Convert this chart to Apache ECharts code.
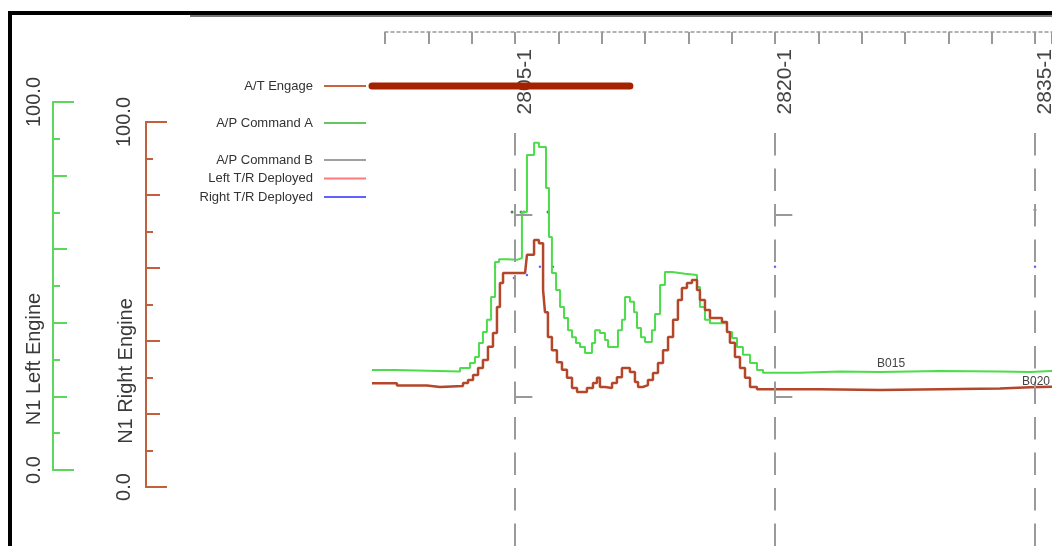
<!DOCTYPE html>
<html><head><meta charset="utf-8">
<script src="https://cdn.jsdelivr.net/npm/echarts@6/dist/echarts.min.js"></script>
<style>html,body{margin:0;padding:0;background:#fff}#c{width:1052px;height:546px}</style>
</head><body><div id="c"></div>
<script>
// ---- data ----
const leftTimes = [2796.75, 2798.08, 2801.83, 2802.40, 2802.69, 2802.92, 2803.15, 2803.38, 2803.62, 2803.85, 2804.08, 2804.54, 2805.12, 2805.40, 2805.69, 2806.10, 2806.38, 2806.79, 2806.96, 2807.13, 2807.37, 2807.60, 2807.83, 2808.06, 2808.29, 2808.52, 2808.75, 2809.04, 2809.44, 2809.62, 2809.90, 2810.19, 2810.37, 2810.94, 2811.17, 2811.35, 2811.63, 2811.87, 2812.04, 2812.27, 2812.50, 2812.90, 2813.08, 2813.37, 2813.65, 2814.06, 2814.81, 2815.50, 2815.67, 2815.96, 2816.25, 2817.23, 2817.52, 2817.81, 2818.15, 2818.56, 2818.96, 2819.31, 2821.44, 2823.75, 2826.06, 2829.52, 2832.98, 2834.71, 2836];
const n1Left = [27.2, 26.8, 27.7, 29.1, 30.7, 34.5, 37.5, 40.8, 47.0, 56.5, 57.3, 57.1, 57.6, 70.1, 85.6, 88.9, 87.8, 76.6, 63.3, 53.5, 48.9, 44.3, 41.3, 38.0, 36.1, 34.5, 33.4, 31.8, 34.5, 38.0, 37.2, 35.3, 33.4, 38.0, 40.8, 47.0, 45.7, 42.9, 38.6, 36.1, 34.8, 38.0, 42.4, 50.3, 53.8, 53.3, 53.0, 49.7, 44.3, 40.8, 39.9, 37.5, 35.9, 33.4, 31.3, 29.1, 27.2, 26.4, 26.8, 26.6, 26.9, 26.8, 26.6, 26.9, 26.9];
const rightTimes = [2796.75, 2798.19, 2799.92, 2800.67, 2802.00, 2802.29, 2802.58, 2802.87, 2803.15, 2803.44, 2803.73, 2803.96, 2804.13, 2804.31, 2805.58, 2805.69, 2806.10, 2806.38, 2806.62, 2806.73, 2806.90, 2807.13, 2807.42, 2807.71, 2808.00, 2808.29, 2808.58, 2809.15, 2809.50, 2809.73, 2809.90, 2810.19, 2810.60, 2810.88, 2811.17, 2811.63, 2811.92, 2812.10, 2812.38, 2812.67, 2812.96, 2813.25, 2813.54, 2813.83, 2814.12, 2814.40, 2814.63, 2814.92, 2815.21, 2815.50, 2815.67, 2815.96, 2816.25, 2816.94, 2817.23, 2817.40, 2817.69, 2817.98, 2818.27, 2818.56, 2818.96, 2822.60, 2826.06, 2829.52, 2832.98, 2834.71, 2836];
const n1Right = [28.4, 27.8, 27.4, 27.7, 28.5, 29.3, 30.7, 32.6, 34.8, 38.4, 42.2, 49.3, 55.9, 58.6, 58.1, 63.6, 67.7, 66.8, 54.0, 47.9, 41.1, 37.5, 34.2, 32.1, 29.9, 27.1, 26.0, 27.1, 28.5, 29.9, 27.4, 27.1, 28.5, 30.1, 32.6, 31.5, 28.8, 27.4, 27.9, 29.3, 31.2, 34.0, 37.5, 41.1, 45.8, 51.2, 54.5, 55.9, 56.7, 54.0, 51.2, 48.5, 46.3, 45.2, 42.5, 39.5, 35.6, 32.6, 29.9, 27.4, 26.8, 26.6, 26.8, 27.0, 27.3, 27.5, 27.5];
const atEngageTimes = [2796.75, 2811.63];
const atEngageState = [1, 1];
const apCmdATimes = [2804.83, 2805.35, 2805.52, 2806.90, 2835.0];
const apCmdALevel = [70.1, 70.1, 70.1, 70.1, 70.7];
const rightTRTimes = [2803.85, 2804.94, 2805.69, 2806.44, 2807.19, 2820.0, 2835.0];
const rightTRLevel = [55.2, 52.2, 53.0, 55.2, 55.2, 55.2, 55.2];
const markerTimes = [2805, 2820, 2835];
const bracketLevels = [74.5, 24.7];
const tagNames = ['B015', 'B020'];
const tagTimes = [2826.7, 2835.06];
const tagLevels = [28.8, 28.8];
const engineAxisLabels = ['N1 Left Engine', 'N1 Right Engine'];
const tickStep = 2.5, labelStep = 15, tickMin = 2797.5;
const legendNames = ['A/T Engage', 'A/P Command A', 'A/P Command B', 'Left T/R Deployed', 'Right T/R Deployed'];

// ---- layout ----
const W = 1052, PX = 17.333, plotLeft = 372, xMin = 2796.75;
const xMax = xMin + (W - plotLeft) / PX;
const tickLeft = plotLeft + (tickMin - xMin) * PX;
const FONT = '"Liberation Sans", Arial, sans-serif';
const GREEN = '#5cd65c', RED = '#c0603c';

const pairs = (ts, vs) => ts.map((t, i) => [t, vs[i]]);
const hiddenX = (g, min, max) => ({ gridIndex: g, type: 'value', min, max, show: false, axisLine: { onZero: false } });
const hiddenY = (g, min, max) => ({ gridIndex: g, type: 'value', min, max, show: false, axisLine: { onZero: false } });
const G = o => Object.assign({ outerBoundsMode: 'none', containLabel: false }, o);

function tickAxis(g, color) {
  return {
    gridIndex: g, type: 'value', position: 'left', min: 0, max: 100, interval: 20,
    axisLine: { show: true, onZero: false, lineStyle: { color, width: 2 } },
    axisTick: { show: true, inside: true, length: 14, lineStyle: { color, width: 2 } },
    minorTick: { show: true, splitNumber: 2, length: 7, lineStyle: { color, width: 2 } },
    axisLabel: { show: false }, splitLine: { show: false }
  };
}
function endAxis(g, color, margin) {
  return {
    gridIndex: g, type: 'value', position: 'left', min: 0, max: 100, interval: 100,
    axisLine: { show: true, onZero: false, lineStyle: { color, width: 2 } },
    axisTick: { show: true, inside: true, length: 21, lineStyle: { color, width: 2 } },
    axisLabel: { show: true, rotate: 90, margin, fontSize: 20, fontFamily: FONT, color: '#3a3a3a',
      align: 'center', verticalAlign: 'bottom', formatter: v => v.toFixed(1) },
    splitLine: { show: false }
  };
}

const legendCommon = {
  orient: 'vertical', align: 'right', right: W - 366, padding: 0,
  itemWidth: 42, itemHeight: 2, icon: 'rect', selectedMode: false,
  textStyle: { fontSize: 13, fontFamily: FONT, color: '#333', lineHeight: 14, padding: [0, 6, 0, 0] }
};
const legendColors = ['#c8643c', '#3cb83c', '#a0a0a0', '#ff7a7a', '#3a3aff'];
const legendItem = i => ({ name: legendNames[i], itemStyle: { color: legendColors[i] } });

const option = {
  animation: false,
  backgroundColor: '#fff',
  grid: [
    G({ left: 53, top: 102, height: 368, width: 40 }),
    G({ left: 146, top: 122, height: 365, width: 40 }),
    G({ left: plotLeft, right: 0, top: 102, height: 368 }),
    G({ left: plotLeft, right: 0, top: 122, height: 365 }),
    G({ left: tickLeft, right: 0, top: 32, height: 100 }),
    G({ left: plotLeft, right: 0, top: 80, height: 12 }),
    G({ left: plotLeft, right: 0, top: 125, bottom: 0 }),
    G({ left: tickLeft, right: 0, top: 20, height: 29 })
  ],
  xAxis: [
    hiddenX(0, 0, 1), hiddenX(1, 0, 1), hiddenX(2, xMin, xMax), hiddenX(3, xMin, xMax),
    {
      gridIndex: 4, type: 'value', position: 'top', min: tickMin, max: xMax, interval: tickStep,
      axisLine: { show: true, onZero: false, lineStyle: { color: '#999', type: [3, 3], width: 1.5 } },
      axisTick: { show: true, inside: true, length: 12, lineStyle: { color: '#999', width: 2 } },
      axisLabel: { show: false }, splitLine: { show: false }
    },
    hiddenX(5, xMin, xMax), hiddenX(6, xMin, xMax),
    {
      gridIndex: 7, type: 'value', position: 'bottom', min: tickMin, max: xMax, interval: tickStep,
      axisLine: { show: false, onZero: false }, axisTick: { show: false }, splitLine: { show: false },
      axisLabel: { show: true, rotate: 90, margin: 0, fontSize: 21, fontFamily: FONT, color: '#444',
        verticalAlign: 'top',
        formatter: v => (Math.abs(v % labelStep) < 1e-6 ? v + '-1' : '') }
    }
  ],
  yAxis: [
    tickAxis(0, GREEN), endAxis(0, GREEN, 9),
    tickAxis(1, RED), endAxis(1, RED, 12),
    hiddenY(2, 0, 100), hiddenY(3, 0, 100), hiddenY(4, 0, 1), hiddenY(5, 0, 2), hiddenY(6, 0, 1), hiddenY(7, 0, 1)
  ],
  legend: [
    Object.assign({}, legendCommon, { top: 79, data: [legendItem(0)] }),
    Object.assign({}, legendCommon, { top: 116, data: [legendItem(1)] }),
    Object.assign({}, legendCommon, { top: 153, itemGap: 4.5, data: [legendItem(2), legendItem(3), legendItem(4)] })
  ],
  series: [
    {
      name: 'N1 Left Engine', type: 'line', xAxisIndex: 2, yAxisIndex: 4, step: 'end', symbol: 'none',
      data: pairs(leftTimes, n1Left), lineStyle: { color: '#4cdc4c', width: 2 }, itemStyle: { color: '#4cdc4c' },
      markPoint: { symbol: 'circle', symbolSize: 1, itemStyle: { color: 'rgba(0,0,0,0)' },
        label: { show: true, position: 'inside', formatter: '{b}', fontSize: 12, fontFamily: FONT, color: '#444' },
        data: [{ name: tagNames[0], coord: [tagTimes[0], tagLevels[0]] }] }
    },
    {
      name: 'N1 Right Engine', type: 'line', xAxisIndex: 3, yAxisIndex: 5, step: 'end', symbol: 'none',
      data: pairs(rightTimes, n1Right), lineStyle: { color: '#b4462a', width: 2.5 }, itemStyle: { color: '#b4462a' },
      markPoint: { symbol: 'circle', symbolSize: 1, itemStyle: { color: 'rgba(0,0,0,0)' },
        label: { show: true, position: 'inside', formatter: '{b}', fontSize: 12, fontFamily: FONT, color: '#444' },
        data: [{ name: tagNames[1], coord: [tagTimes[1], tagLevels[1]] }] },
      markLine: { silent: true, symbol: ['none', 'none'], label: { show: false },
        lineStyle: { color: '#999', width: 2, type: 'solid' },
        data: markerTimes.flatMap(t => bracketLevels.map(l => [{ coord: [t, l] }, { coord: [t + 1, l] }])) }
    },
    {
      name: 'A/T Engage', type: 'line', xAxisIndex: 5, yAxisIndex: 7, symbol: 'none',
      data: pairs(atEngageTimes, atEngageState), lineStyle: { color: '#a52200', width: 7, cap: 'round' },
      itemStyle: { color: '#a52200' }
    },
    {
      name: 'A/P Command A', type: 'scatter', xAxisIndex: 2, yAxisIndex: 4, symbolSize: 3,
      data: pairs(apCmdATimes, apCmdALevel), itemStyle: { color: '#1d6e1d' }
    },
    { name: 'A/P Command B', type: 'line', xAxisIndex: 2, yAxisIndex: 4, data: [], itemStyle: { color: '#a0a0a0' } },
    { name: 'Left T/R Deployed', type: 'line', xAxisIndex: 2, yAxisIndex: 4, data: [], itemStyle: { color: '#ff7a7a' } },
    {
      name: 'Right T/R Deployed', type: 'scatter', xAxisIndex: 2, yAxisIndex: 4, symbolSize: 2.5,
      data: pairs(rightTRTimes, rightTRLevel), itemStyle: { color: '#3a3aff' }
    },
    {
      name: 'markers', type: 'line', xAxisIndex: 6, yAxisIndex: 8, symbol: 'none',
      data: markerTimes.map(t => [t, 0.5]), lineStyle: { opacity: 0 },
      markLine: { silent: true, symbol: ['none', 'none'], label: { show: false },
        lineStyle: { color: '#9a9a9a', width: 2, type: [22.5, 13] },
        data: markerTimes.map(t => ({ xAxis: t })) }
    }
  ],
  graphic: [
    { type: 'polyline', z: 100, shape: { points: [[10, 546], [10, 13], [1052, 13]] },
      style: { stroke: '#000', lineWidth: 4, fill: null } },
    { type: 'line', z: 99, shape: { x1: 190, y1: 16, x2: 1052, y2: 16 }, style: { stroke: '#777', lineWidth: 2 } },
    { type: 'text', x: 34.5, y: 359, rotation: Math.PI / 2,
      style: { text: engineAxisLabels[0], font: '20px ' + FONT, fill: '#3a3a3a',
        textAlign: 'center', textVerticalAlign: 'middle', align: 'center', verticalAlign: 'middle' } },
    { type: 'text', x: 126, y: 371, rotation: Math.PI / 2,
      style: { text: engineAxisLabels[1], font: '20px ' + FONT, fill: '#3a3a3a',
        textAlign: 'center', textVerticalAlign: 'middle', align: 'center', verticalAlign: 'middle' } }
  ]
};

const chart = echarts.init(document.getElementById('c'));
chart.setOption(option);
</script>
</body></html>
